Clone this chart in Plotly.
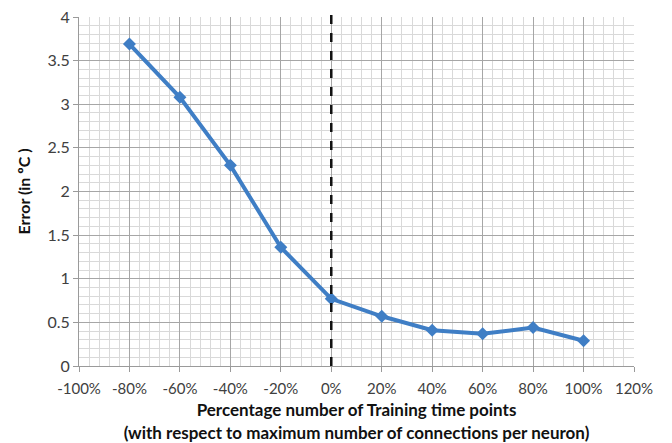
import plotly.graph_objects as go

x_pct = [-80, -60, -40, -20, 0, 20, 40, 60, 80, 100]
error_c = [3.69, 3.08, 2.30, 1.36, 0.77, 0.57, 0.41, 0.37, 0.44, 0.29]

x_tick_vals = [-100, -80, -60, -40, -20, 0, 20, 40, 60, 80, 100, 120]
x_tick_text = ["-100%", "-80%", "-60%", "-40%", "-20%", "0%", "20%", "40%", "60%", "80%", "100%", "120%"]

x_title = "Percentage number of Training time points<br>(with respect to maximum number of connections per neuron)"
y_title = "Error (in ºC )"

FONT = "Lato, 'Open Sans', sans-serif"

fig = go.Figure()
fig.add_trace(go.Scatter(
    x=x_pct, y=error_c, mode="lines+markers",
    line=dict(color="#3F7EC5", width=4),
    marker=dict(symbol="diamond", size=10, color="#3F7EC5"),
    showlegend=False,
))

fig.add_shape(type="line", xref="x", yref="paper", x0=0, x1=0, y0=0, y1=1.026,
              line=dict(color="#111111", width=2.5, dash="dash"))

fig.update_layout(
    width=672, height=443,
    margin=dict(l=79, r=38, t=17, b=77),
    plot_bgcolor="white", paper_bgcolor="white",
    font=dict(family=FONT, size=15, color="#404040"),
)
fig.update_xaxes(
    range=[-100, 120], tickvals=x_tick_vals, ticktext=x_tick_text,
    showgrid=True, gridcolor="#a6a6a6", gridwidth=1,
    minor=dict(dtick=4, tick0=0, showgrid=True, gridcolor="#d9d9d9", gridwidth=1),
    showline=True, linecolor="#9a9a9a", linewidth=1,
    ticks="outside", ticklen=5, tickcolor="#9a9a9a",
    ticklabelstandoff=4,
    automargin=False,
    zeroline=False,
    title=dict(text=x_title, font=dict(family=FONT, size=17, color="#111111", weight="bold"), standoff=8),
    tickfont=dict(color="#404040", size=15),
)
fig.update_yaxes(
    range=[0, 4], dtick=0.5,
    showgrid=True, gridcolor="#a6a6a6", gridwidth=1,
    minor=dict(dtick=0.1, showgrid=True, gridcolor="#d9d9d9", gridwidth=1),
    showline=True, linecolor="#9a9a9a", linewidth=1,
    ticks="outside", ticklen=5, tickcolor="#9a9a9a",
    automargin=False,
    zeroline=False,
    title=dict(text=y_title, font=dict(family=FONT, size=16, color="#111111", weight="bold"), standoff=12),
    tickfont=dict(color="#404040", size=16),
)

fig.write_html("out.html")
